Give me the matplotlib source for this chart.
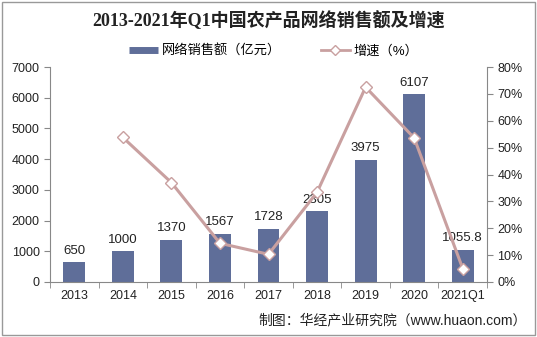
import matplotlib.pyplot as plt
import numpy as np
from matplotlib.patches import Rectangle
from matplotlib.lines import Line2D

plt.rcParams['font.family'] = ['Liberation Sans', 'Noto Sans CJK SC', 'DejaVu Sans']

years = ['2013', '2014', '2015', '2016', '2017', '2018', '2019', '2020', '2021Q1']
sales = [650, 1000, 1370, 1567, 1728, 2305, 3975, 6107, 1055.8]
sales_labels = ['650', '1000', '1370', '1567', '1728', '2305', '3975', '6107', '1055.8']
growth = [None, 53.8, 37.0, 14.4, 10.3, 33.4, 72.5, 53.6, 5.0]

bar_color = '#5F6E99'
line_color = '#C9A0A0'
axis_color = '#888888'

fig = plt.figure(figsize=(5.37, 3.37), dpi=100)
ax = fig.add_axes([50 / 537, 1 - 282 / 337, 437 / 537, 215 / 337])
ax2 = ax.twinx()

x = np.arange(len(years))
ax.bar(x, sales, width=0.45, color=bar_color, zorder=2)
for xi, v, lab in zip(x, sales, sales_labels):
    ax.text(xi, v + 180, lab, ha='center', va='bottom', fontsize=9.5, color='#222222')

gx = [xi for xi, g in zip(x, growth) if g is not None]
gy = [g for g in growth if g is not None]
ax2.plot(gx, gy, color=line_color, lw=2.2, marker='D', markersize=6,
         markerfacecolor='white', markeredgecolor=line_color, markeredgewidth=1.0, zorder=3)

ax.set_xlim(-0.5, len(years) - 0.5)
ax.set_ylim(0, 7000)
ax.set_yticks(range(0, 7001, 1000))
ax2.set_ylim(0, 80)
ax2.set_yticks(range(0, 81, 10))
ax2.set_yticklabels([f'{t}%' for t in range(0, 81, 10)])

ax.set_xticks(x)
ax.set_xticklabels(years)
ax.set_xticks(np.arange(-0.5, len(years), 1), minor=True)
ax.tick_params(axis='x', which='major', length=0, pad=6, labelsize=9, colors='#222222')
ax.tick_params(axis='x', which='minor', length=4, color=axis_color, direction='out')
ax.tick_params(axis='y', length=4, color=axis_color, labelsize=9, labelcolor='#222222')
ax2.tick_params(axis='y', length=4, color=axis_color, labelsize=9, labelcolor='#222222')

for a in (ax, ax2):
    a.spines['top'].set_visible(False)
    for s in ('left', 'right', 'bottom'):
        a.spines[s].set_color(axis_color)
        a.spines[s].set_linewidth(0.8)
ax.spines['right'].set_visible(False)
ax2.spines['left'].set_visible(False)
ax2.spines['bottom'].set_visible(False)

fig.text(0.5, 1 - 21 / 337, '2013-2021年Q1中国农产品网络销售额及增速', ha='center', va='center',
         fontsize=13, fontweight='bold', color='#222222',
         family=['Liberation Serif', 'Noto Sans CJK SC'])

# legend: a flat bar swatch and the line with its diamond marker
handles = [Line2D([], [], color=bar_color, lw=5, solid_capstyle='butt'),
           Line2D([], [], color=line_color, lw=2, marker='D', markersize=5,
                  markerfacecolor='white', markeredgecolor=line_color)]
fig.legend(handles, ['网络销售额（亿元）', '增速（%）'], loc='center',
           bbox_to_anchor=(0.51, 1 - 51 / 337), ncol=2, frameon=False, fontsize=9.5,
           handlelength=2.2, columnspacing=3.0, handletextpad=0.3)

fig.text(1 - 10 / 537, 1 - 320 / 337, '制图：华经产业研究院（www.huaon.com）', ha='right', va='center',
         fontsize=10, color='#222222')

fig.patches.append(Rectangle((0.004, 0.006), 0.992, 0.988, transform=fig.transFigure,
                             fill=False, edgecolor='#999999', lw=1.0))

fig.savefig('out.png', dpi=100)
